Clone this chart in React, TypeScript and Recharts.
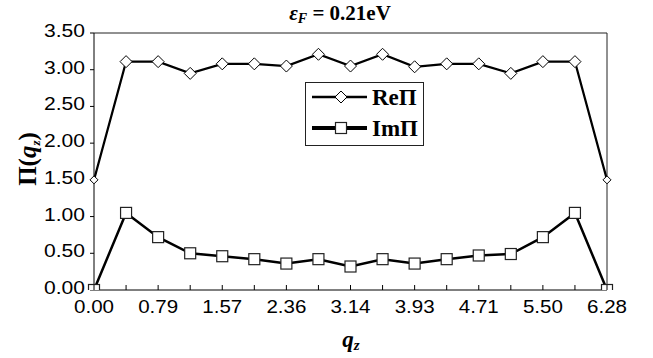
import React from "react";
import { LineChart, Line, XAxis, YAxis, ReferenceLine, Label } from "recharts";

const qz = ["0.00","0.39","0.79","1.18","1.57","1.96","2.36","2.75","3.14","3.53","3.93","4.32","4.71","5.11","5.50","5.89","6.28"];
const rePi = [1.50,3.11,3.11,2.95,3.08,3.08,3.05,3.21,3.05,3.21,3.04,3.08,3.08,2.95,3.11,3.11,1.50];
const imPi = [0.00,1.05,0.72,0.50,0.46,0.42,0.36,0.42,0.32,0.42,0.36,0.42,0.47,0.49,0.72,1.05,0.00];
const yTicks = [0, 0.5, 1, 1.5, 2, 2.5, 3, 3.5];
const seriesNames = ["ReΠ", "ImΠ"];

const data = qz.map((q, i) => ({ q, re: rePi[i], im: imPi[i] }));

const SERIF = "'Liberation Serif', 'Times New Roman', serif";
const SANS = "'Liberation Sans', Arial, sans-serif";

const XTick = (props: any) => {
  const { x, y, payload } = props;
  const idx = qz.indexOf(payload.value);
  const axisY = y - 8;
  return (
    <g>
      <line x1={x} x2={x} y1={axisY} y2={axisY - 5} stroke="#000" strokeWidth={1} />
      {idx % 2 === 0 && (
        <text x={x} y={axisY + 23} textAnchor="middle" fontFamily={SANS} fontSize={19}
          textLength={40} lengthAdjust="spacingAndGlyphs" fill="#000">
          {payload.value}
        </text>
      )}
    </g>
  );
};

const YTick = (props: any) => {
  const { x, y, payload } = props;
  return (
    <text x={x} y={y + 4} textAnchor="end" fontFamily={SANS} fontSize={18}
      textLength={41} lengthAdjust="spacingAndGlyphs" fill="#000">
      {Number(payload.value).toFixed(2)}
    </text>
  );
};

const Diamond = (props: any) => {
  const { cx, cy, index } = props;
  const r = index === 0 || index === qz.length - 1 ? 4 : 6;
  return (
    <polygon key={`d${index}`} points={`${cx},${cy - r} ${cx + r},${cy} ${cx},${cy + r} ${cx - r},${cy}`}
      fill="#fff" stroke="#000" strokeWidth={1} />
  );
};

const Square = (props: any) => {
  const { cx, cy, index } = props;
  return (
    <rect key={`s${index}`} x={cx - 5.5} y={cy - 5.5} width={11} height={11} fill="#fff" stroke="#222" strokeWidth={1.2} />
  );
};

const YLabel = () => (
  <text transform="rotate(-90, 36, 159)" x={36} y={159} textAnchor="middle" fontFamily={SERIF}
    fontWeight="bold" fontSize={25} fill="#000">
    Π(<tspan fontStyle="italic">q</tspan>
    <tspan fontSize={13} dy={4} fontStyle="italic">z</tspan>
    <tspan dy={-4}>)</tspan>
  </text>
);

const XLabelAndTitle = () => (
  <g>
    <text x={351} y={347} textAnchor="middle" fontFamily={SERIF} fontWeight="bold" fontSize={23} fill="#000">
      <tspan fontStyle="italic">q</tspan>
      <tspan fontStyle="italic" fontSize={15} dy={3}>z</tspan>
    </text>
    <text x={340} y={20} textAnchor="middle" fontFamily={SERIF} fontWeight="bold" fontSize={21} fill="#000">
      <tspan fontStyle="italic">ε</tspan>
      <tspan fontStyle="italic" fontSize={14} dy={3}>F</tspan>
      <tspan dy={-3}> = 0.21eV</tspan>
    </text>
  </g>
);

const LegendBox = () => (
  <div style={{ position: "absolute", left: 305, top: 82, width: 119, height: 64, boxSizing: "border-box",
    border: "1px solid #222", background: "#fff" }}>
    <svg width={117} height={62} style={{ display: "block" }}>
      <line x1={6} x2={61} y1={14} y2={14} stroke="#000" strokeWidth={2.5} />
      <polygon points="35,8 41,14 35,20 29,14" fill="#fff" stroke="#000" strokeWidth={1} />
      <text x={66} y={22} fontFamily={SERIF} fontWeight="bold" fontSize={23} fill="#000">{seriesNames[0]}</text>
      <line x1={6} x2={61} y1={45} y2={45} stroke="#000" strokeWidth={4} />
      <rect x={29.5} y={39.5} width={11} height={11} fill="#fff" stroke="#222" strokeWidth={1.2} />
      <text x={66} y={53} fontFamily={SERIF} fontWeight="bold" fontSize={23} fill="#000">{seriesNames[1]}</text>
    </svg>
  </div>
);

export default function App() {
  return (
    <div style={{ position: "absolute", left: 0, top: 0, width: 653, height: 358, background: "#fff" }}>
      <LineChart width={653} height={358} data={data} margin={{ top: 33, right: 46, bottom: 0, left: 0 }}>
        <XAxis dataKey="q" type="category" height={68} interval={0} tickLine={false}
          axisLine={{ stroke: "#000", strokeWidth: 1 }} tick={<XTick />} padding={{ left: 0, right: 0 }}>
          <Label content={<XLabelAndTitle />} />
        </XAxis>
        <YAxis type="number" domain={[0, 3.5]} ticks={yTicks} width={94} tickSize={4} tickMargin={5}
          axisLine={{ stroke: "#000", strokeWidth: 1 }} tickLine={{ stroke: "#000" }} tick={<YTick />}
          allowDataOverflow>
          <Label content={<YLabel />} />
        </YAxis>
        <ReferenceLine y={3.5} stroke="#222" strokeWidth={1} />
        <ReferenceLine x="6.28" stroke="#222" strokeWidth={1} />
        <Line dataKey="im" name={seriesNames[1]} stroke="#000" strokeWidth={2.5} dot={<Square />}
          isAnimationActive={false} />
        <Line dataKey="re" name={seriesNames[0]} stroke="#000" strokeWidth={2.2} dot={<Diamond />}
          isAnimationActive={false} />
      </LineChart>
      <LegendBox />
    </div>
  );
}
